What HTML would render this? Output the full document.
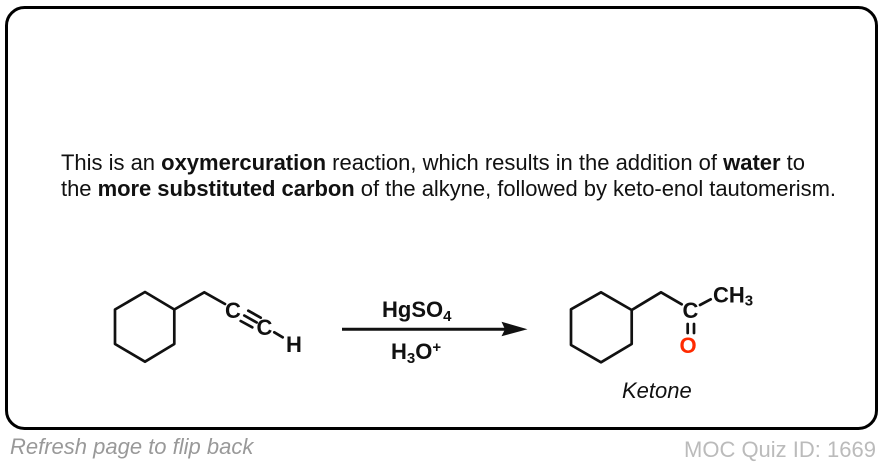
<!DOCTYPE html>
<html><head><meta charset="utf-8"><style>
html,body{margin:0;padding:0;background:#fff;width:884px;height:464px;overflow:hidden}
svg{display:block}
text{font-family:"Liberation Sans",Arial,sans-serif}
.b{font-weight:700}
</style></head><body>
<svg width="884" height="464" viewBox="0 0 884 464" xmlns="http://www.w3.org/2000/svg">
<rect x="6.5" y="7.5" width="870" height="421" rx="18" ry="18" fill="#fff" stroke="#000" stroke-width="3"/>
<text x="61" y="170" font-size="22" fill="#111" textLength="744" lengthAdjust="spacing">This is an <tspan class="b">oxymercuration</tspan> reaction, which results in the addition of <tspan class="b">water</tspan> to</text>
<text x="61" y="196" font-size="22" fill="#111" textLength="775" lengthAdjust="spacing">the <tspan class="b">more substituted carbon</tspan> of the alkyne, followed by keto-enol tautomerism.</text>

<g fill="none" stroke="#111" stroke-width="2.7" stroke-linecap="round" stroke-linejoin="round">
<path d="M145 292L174.3 309.5V344L145 361.7L115 344V309.5Z"/>
<path d="M174.3 309.5L204.3 292.3L225 304"/>
<path d="M248.3 310.7L260.7 317.7M244.3 315.5L256.7 322.5M240.7 321L252.3 327.3"/>
<path d="M274.3 332.3L282.7 337.3"/>
<path d="M601 292.3L631.7 310V344L601 362.3L571 345V309.3Z"/>
<path d="M631.7 310L661 292.3L681.7 304.3"/>
<path d="M700 305L710.7 299.3"/>
<path d="M687.7 324V333M694 324V333"/>
</g>
<g font-size="22" fill="#111" font-weight="700">
<text x="225" y="318">C</text>
<text x="256.5" y="335">C</text>
<text x="286" y="352">H</text>
<text x="682.5" y="318">C</text>
<text x="713" y="302.5">CH<tspan font-size="15" dy="3">3</tspan></text>
<text x="679.5" y="353" fill="#ff2a00">O</text>
<text x="382" y="317">HgSO<tspan font-size="15" dy="4">4</tspan></text>
<text x="391" y="359">H<tspan font-size="15" dy="4">3</tspan><tspan dy="-4">O</tspan><tspan font-size="15" dy="-7">+</tspan></text>
</g>
<path d="M342 329.3H506" stroke="#111" stroke-width="3" fill="none"/>
<path d="M527.5 329.3L501.5 321.7L505 329.3L501.5 336.3Z" fill="#111"/>
<text x="622" y="398" font-size="22" font-style="italic" fill="#111">Ketone</text>
<text x="10" y="454" font-size="22" font-style="italic" fill="#999">Refresh page to flip back</text>
<text x="684" y="457" font-size="22" fill="#bbb">MOC Quiz ID: 1669</text>
</svg>
</body></html>
